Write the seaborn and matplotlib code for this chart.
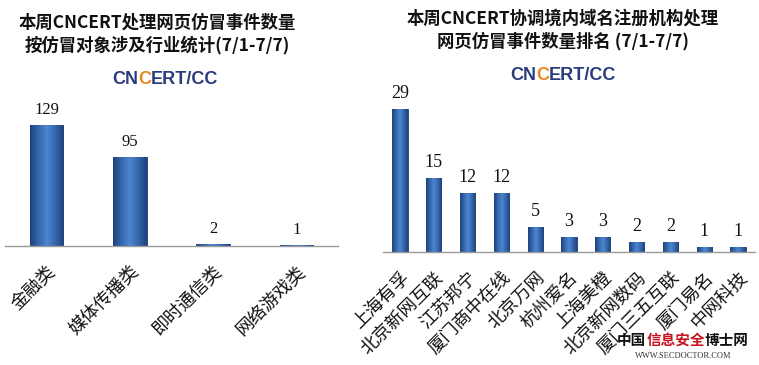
import matplotlib
matplotlib.use("Agg")
import matplotlib.pyplot as plt
import seaborn as sns
import numpy as np
import pandas as pd
from matplotlib.colors import LinearSegmentedColormap

sns.set_theme(style="white")
plt.rcParams['font.family'] = ['Noto Sans CJK SC', 'DejaVu Sans']

# ---- data ----
left_title = "本周CNCERT处理网页仿冒事件数量\n按仿冒对象涉及行业统计(7/1-7/7)"
left_cats = ["金融类", "媒体传播类", "即时通信类", "网络游戏类"]
left_vals = [129, 95, 2, 1]

right_title = "本周CNCERT协调境内域名注册机构处理\n网页仿冒事件数量排名 (7/1-7/7)"
right_cats = ["上海有孚", "北京新网互联", "江苏邦宁", "厦门商中在线", "北京万网", "杭州爱名",
              "上海美橙", "北京新网数码", "厦门三五互联", "厦门易名", "中网科技"]
right_vals = [29, 15, 12, 12, 5, 3, 3, 2, 2, 1, 1]

BAR = "#3A6CB3"
EDGE = "#1E3D6E"
NUMFONT = ['Liberation Serif', 'DejaVu Serif']
grad_cmap = LinearSegmentedColormap.from_list(
    "bar", ["#1F4279", "#3567AE", "#4D86CF", "#3567AE", "#1F4279"])

fig = plt.figure(figsize=(7.59, 3.65), dpi=100)


def panel(rect, cats, vals, ylim, width, numsize, ticksize, pad):
    ax = fig.add_axes(rect)
    df = pd.DataFrame({"cat": cats, "val": vals})
    sns.barplot(data=df, x="cat", y="val", color=BAR, width=width, ax=ax,
                edgecolor=EDGE, linewidth=0.6, saturation=1)
    ax.set_ylim(*ylim)
    ax.set_xlim(-0.5, len(cats) - 0.5)
    # shaded fill for each bar
    grad = np.linspace(0, 1, 64).reshape(1, -1)
    for p in list(ax.patches):
        x0, w, h = p.get_x(), p.get_width(), p.get_height()
        im = ax.imshow(grad, cmap=grad_cmap, extent=(x0, x0 + w, 0, h),
                       aspect="auto", zorder=p.get_zorder() + 0.1, origin="lower")
        im.set_clip_path(p)
    ax.set_ylim(*ylim)
    ax.set_xlim(-0.5, len(cats) - 0.5)
    for s in ["top", "right", "left"]:
        ax.spines[s].set_visible(False)
    ax.spines["bottom"].set_color("#9A9A9A")
    ax.spines["bottom"].set_linewidth(1.0)
    ax.spines["bottom"].set_zorder(5)
    ax.set_yticks([])
    ax.set_xlabel("")
    ax.set_ylabel("")
    ax.tick_params(axis="x", length=0, pad=pad)
    ax.set_xticks(range(len(cats)))
    ax.set_xticklabels(cats, rotation=45, ha="right", rotation_mode="anchor",
                       fontsize=ticksize, color="#111111")
    for p, v in zip(ax.patches, vals):
        ax.annotate(str(v), (p.get_x() + p.get_width() / 2, p.get_height()),
                    xytext=(0, 5), textcoords="offset points", ha="center", va="bottom",
                    fontsize=numsize, family=NUMFONT, color="#111111")
    return ax


axl = panel([5 / 759, 0.326, 333 / 759, 0.36], left_cats, left_vals, (0, 140), 0.4, 12, 13, 12)
axr = panel([383 / 759, 0.310, 372 / 759, 0.419], right_cats, right_vals, (0, 31), 0.45, 13, 13, 12)

# titles
fig.text(157 / 759, 1 - 34 / 365, left_title, ha="center", va="center", fontsize=12.5,
         fontweight="bold", linespacing=1.3, color="#111111")
fig.text(563 / 759, 1 - 30 / 365, right_title, ha="center", va="center", fontsize=12.5,
         fontweight="bold", linespacing=1.3, color="#111111")

fig.canvas.draw()
renderer = fig.canvas.get_renderer()


def seq_text(xc, yc, parts, **kw):
    """Draw consecutive coloured pieces centred at (xc, yc) in pixel coords."""
    texts = []
    for s, c in parts:
        t = fig.text(0, 0, s, color=c, va="center", ha="left", **kw)
        texts.append(t)
    widths = [t.get_window_extent(renderer).width for t in texts]
    x = xc - sum(widths) / 2
    for t, w in zip(texts, widths):
        t.set_position((x / 759, 1 - yc / 365))
        x += w


LOGO_FONT = dict(fontsize=13, fontweight="bold", family=['Liberation Sans', 'DejaVu Sans'])
logo_parts = [("CN", "#2A3C7C"), ("C", "#E8891E"), ("ERT/CC", "#2A3C7C")]
seq_text(165, 80, logo_parts, **LOGO_FONT)
seq_text(563, 76, logo_parts, **LOGO_FONT)

# watermark
seq_text(683, 340, [("中国", "#111111"), ("信息安全", "#C8141E"), ("博士网", "#111111")],
         fontsize=10.5, fontweight="bold")
fig.text(683 / 759, 1 - 356 / 365, "WWW.SECDOCTOR.COM", ha="center", va="center",
         fontsize=6, color="#333333", family=NUMFONT)

fig.savefig("out.png", dpi=100)
